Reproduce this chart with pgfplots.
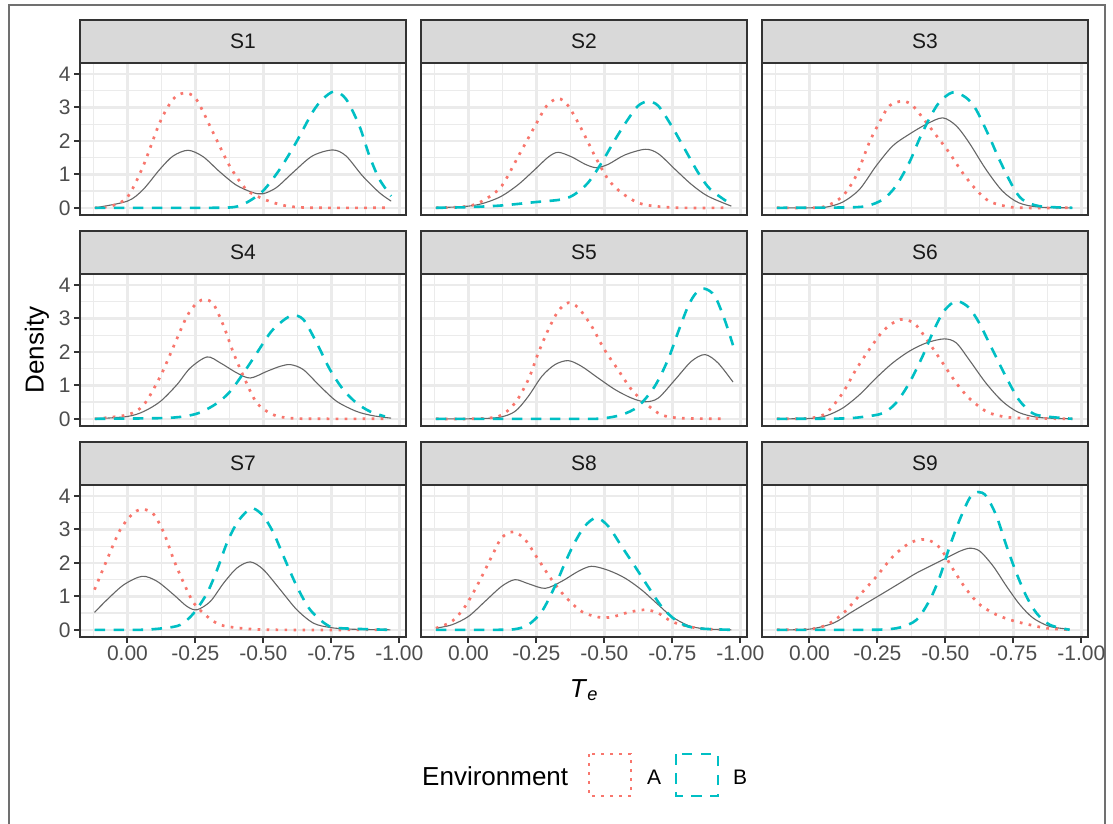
\documentclass[border=0pt]{standalone}
\usepackage{fontspec}
\setmainfont{Liberation Sans}
\usepackage{pgfplots}
\pgfplotsset{compat=1.18}
\definecolor{cA}{HTML}{F8766D}
\definecolor{cB}{HTML}{00BFC4}
\definecolor{cM}{HTML}{666666}
\definecolor{gridc}{HTML}{EBEBEB}
\definecolor{bordc}{HTML}{333333}
\definecolor{stripc}{HTML}{D9D9D9}
\definecolor{tickc}{HTML}{4D4D4D}
\definecolor{framec}{HTML}{707070}
\newcommand{\tsz}{\fontsize{21}{24}\selectfont}
\newcommand{\bsz}{\fontsize{26}{30}\selectfont}
\pgfplotsset{
  facet/.style={
    scale only axis, width=326pt, height=151.5pt, anchor=north west,
    xmin=-0.1745, xmax=1.0245, ymin=-0.2, ymax=4.33,
    xtick={0,0.25,0.5,0.75,1}, minor xtick={-0.125,0.125,0.375,0.625,0.875},
    ytick={0,1,2,3,4}, minor ytick={0.5,1.5,2.5,3.5},
    xticklabels={}, yticklabels={},
    grid=both,
    major grid style={draw=gridc, line width=2.6pt},
    minor grid style={draw=gridc, line width=1.3pt},
    axis line style={draw=bordc, line width=2pt},
    tick align=outside, major tick length=6pt, minor tick length=0pt,
    xmajorticks=false, ymajorticks=false,
    every tick/.style={draw=bordc, line width=2pt},
    tick label style={font=\tsz, text=tickc},
    clip=true,
  },
  lc/.style={ymajorticks=true, yticklabels={0,1,2,3,4}, ytick pos=left},
  br/.style={xmajorticks=true, xticklabels={0.00,-0.25,-0.50,-0.75,-1.00}, xtick pos=bottom},
  mix/.style={cM, line width=1.1pt, smooth, no marks, solid},
  envA/.style={cA, line width=2.7pt, dash pattern=on 2.7pt off 6.3pt, smooth, no marks},
  envB/.style={cB, line width=2.6pt, dash pattern=on 10.5pt off 8.5pt, smooth, no marks},
}
\newcommand{\strip}[3]{%
  \draw[fill=stripc, draw=bordc, line width=2pt] (#1pt,-#2pt) rectangle ++(326pt,-43pt);
  \node[font=\tsz, text=black!90, anchor=center] at ([xshift=163pt,yshift=-21.5pt]#1pt,-#2pt) {#3};}
\begin{document}
\begin{tikzpicture}
\useasboundingbox (0pt,0pt) rectangle (1113pt,-824pt);
\draw[framec, line width=2pt] (9pt,-830pt) -- (9pt,-5pt) -- (1105pt,-5pt) -- (1105pt,-830pt);

% S1
\begin{axis}[facet, lc, at={(80pt,-63pt)}]
\addplot[mix] coordinates {(-0.12,0) (0,0.2) (0.058,0.55) (0.119,1.15) (0.168,1.55) (0.223,1.72) (0.278,1.53) (0.339,1.08) (0.4,0.68) (0.46,0.46) (0.498,0.42) (0.547,0.6) (0.608,1.05) (0.68,1.55) (0.755,1.73) (0.804,1.55) (0.865,0.95) (0.927,0.45) (0.97,0.2)};
\addplot[envA] coordinates {(-0.12,0) (-0.06,0.05) (0,0.32) (0.058,1.25) (0.119,2.55) (0.168,3.25) (0.21,3.43) (0.253,3.25) (0.315,2.25) (0.376,1.25) (0.437,0.55) (0.498,0.27) (0.56,0.1) (0.61,0.03) (0.7,0) (0.95,0)};
\addplot[envB] coordinates {(-0.12,0) (0.3,0) (0.39,0.02) (0.437,0.15) (0.498,0.5) (0.56,1.15) (0.62,1.95) (0.68,2.85) (0.718,3.25) (0.761,3.48) (0.804,3.25) (0.853,2.45) (0.89,1.55) (0.927,0.85) (0.97,0.35)};
\end{axis}
% S2
\begin{axis}[facet, at={(421pt,-63pt)}]
\addplot[mix] coordinates {(-0.12,0) (0,0.05) (0.061,0.15) (0.122,0.35) (0.184,0.7) (0.245,1.15) (0.294,1.52) (0.33,1.66) (0.38,1.52) (0.43,1.3) (0.47,1.2) (0.514,1.3) (0.575,1.58) (0.65,1.75) (0.698,1.62) (0.76,1.15) (0.82,0.7) (0.88,0.35) (0.967,0.05)};
\addplot[envA] coordinates {(-0.12,0) (0,0.05) (0.061,0.25) (0.122,0.65) (0.184,1.55) (0.245,2.45) (0.288,3.05) (0.33,3.27) (0.367,3.05) (0.416,2.35) (0.465,1.55) (0.514,0.85) (0.563,0.45) (0.624,0.15) (0.685,0.05) (0.78,0) (0.955,0)};
\addplot[envB] coordinates {(-0.12,0) (0,0.02) (0.122,0.07) (0.245,0.17) (0.343,0.25) (0.39,0.4) (0.44,0.75) (0.49,1.35) (0.54,2.05) (0.587,2.65) (0.624,3.05) (0.66,3.18) (0.698,3.05) (0.747,2.45) (0.796,1.75) (0.845,1.05) (0.89,0.55) (0.967,0.1)};
\end{axis}
% S3
\begin{axis}[facet, at={(762pt,-63pt)}]
\addplot[mix] coordinates {(-0.12,0) (0,0) (0.061,0.02) (0.122,0.17) (0.184,0.55) (0.245,1.25) (0.306,1.85) (0.367,2.2) (0.43,2.5) (0.49,2.69) (0.54,2.45) (0.587,1.95) (0.649,1.15) (0.71,0.5) (0.77,0.15) (0.845,0.02) (0.967,0)};
\addplot[envA] coordinates {(-0.12,0) (0,0) (0.061,0.05) (0.122,0.35) (0.171,0.95) (0.22,1.95) (0.257,2.55) (0.294,3.05) (0.343,3.19) (0.38,3.05) (0.43,2.55) (0.477,2.05) (0.514,1.65) (0.563,1.05) (0.612,0.55) (0.66,0.2) (0.72,0.05) (0.78,0) (0.967,0)};
\addplot[envB] coordinates {(-0.12,0) (0.122,0.01) (0.208,0.05) (0.27,0.25) (0.318,0.65) (0.367,1.35) (0.404,2.05) (0.44,2.65) (0.477,3.15) (0.526,3.45) (0.575,3.3) (0.612,2.95) (0.66,2.15) (0.698,1.45) (0.747,0.65) (0.783,0.25) (0.845,0.05) (0.967,0)};
\end{axis}
% S4
\begin{axis}[facet, lc, at={(80pt,-274pt)}]
\addplot[mix] coordinates {(-0.12,0) (0,0.07) (0.06,0.22) (0.121,0.52) (0.182,1.02) (0.231,1.52) (0.293,1.85) (0.342,1.67) (0.403,1.37) (0.452,1.22) (0.513,1.42) (0.562,1.57) (0.6,1.62) (0.647,1.47) (0.709,0.97) (0.77,0.52) (0.843,0.22) (0.905,0.09) (0.97,0.02)};
\addplot[envA] coordinates {(-0.12,0) (0,0.12) (0.06,0.42) (0.121,1.27) (0.17,2.17) (0.219,3.07) (0.256,3.47) (0.286,3.57) (0.317,3.42) (0.354,2.77) (0.39,1.97) (0.427,1.27) (0.476,0.47) (0.537,0.12) (0.6,0.02) (0.7,0) (0.947,0)};
\addplot[envB] coordinates {(-0.12,0) (0.121,0.02) (0.207,0.07) (0.268,0.19) (0.33,0.47) (0.378,0.82) (0.427,1.37) (0.476,1.97) (0.525,2.57) (0.562,2.87) (0.605,3.09) (0.647,2.97) (0.696,2.27) (0.745,1.47) (0.794,0.87) (0.843,0.47) (0.892,0.22) (0.947,0.07)};
\end{axis}
% S5
\begin{axis}[facet, at={(421pt,-274pt)}]
\addplot[mix] coordinates {(-0.12,0) (0,0) (0.11,0.04) (0.171,0.22) (0.22,0.67) (0.27,1.27) (0.318,1.62) (0.367,1.74) (0.416,1.57) (0.477,1.22) (0.54,0.87) (0.6,0.62) (0.65,0.51) (0.698,0.62) (0.76,1.17) (0.82,1.72) (0.87,1.92) (0.918,1.67) (0.973,1.1)};
\addplot[envA] coordinates {(-0.12,0) (0,0) (0.11,0.07) (0.171,0.47) (0.22,1.17) (0.257,1.97) (0.294,2.67) (0.33,3.22) (0.367,3.47) (0.404,3.32) (0.453,2.77) (0.5,2.07) (0.55,1.47) (0.6,0.87) (0.65,0.47) (0.71,0.12) (0.783,0.02) (0.947,0)};
\addplot[envB] coordinates {(-0.12,0) (0.4,0) (0.49,0.01) (0.563,0.12) (0.624,0.37) (0.685,0.97) (0.734,1.77) (0.77,2.57) (0.808,3.37) (0.838,3.77) (0.869,3.89) (0.906,3.67) (0.942,2.97) (0.973,2.2)};
\end{axis}
% S6
\begin{axis}[facet, at={(762pt,-274pt)}]
\addplot[mix] coordinates {(-0.12,0) (0,0.01) (0.061,0.09) (0.122,0.32) (0.184,0.72) (0.245,1.22) (0.306,1.67) (0.367,2.02) (0.43,2.27) (0.496,2.39) (0.54,2.27) (0.587,1.77) (0.649,1.07) (0.71,0.52) (0.77,0.19) (0.845,0.04) (0.967,0)};
\addplot[envA] coordinates {(-0.12,0) (0,0.02) (0.061,0.17) (0.122,0.77) (0.171,1.47) (0.22,2.07) (0.27,2.62) (0.318,2.92) (0.35,2.97) (0.39,2.82) (0.44,2.27) (0.49,1.67) (0.54,1.07) (0.587,0.62) (0.65,0.22) (0.71,0.07) (0.78,0.02) (0.967,0)};
\addplot[envB] coordinates {(-0.12,0) (0.122,0.01) (0.208,0.07) (0.27,0.17) (0.318,0.47) (0.367,1.07) (0.416,1.87) (0.453,2.57) (0.49,3.17) (0.526,3.47) (0.55,3.51) (0.587,3.32) (0.624,2.87) (0.673,2.07) (0.722,1.27) (0.77,0.57) (0.82,0.17) (0.87,0.07) (0.967,0)};
\end{axis}
% S7
\begin{axis}[facet, lc, br, at={(80pt,-485pt)}]
\addplot[mix] coordinates {(-0.121,0.52) (-0.075,0.9) (-0.013,1.35) (0.054,1.6) (0.109,1.45) (0.17,1.05) (0.219,0.7) (0.256,0.6) (0.305,0.85) (0.354,1.4) (0.403,1.85) (0.452,2.03) (0.5,1.8) (0.562,1.2) (0.623,0.6) (0.684,0.2) (0.745,0.07) (0.82,0.02) (0.967,0)};
\addplot[envA] coordinates {(-0.121,1.2) (-0.075,2.1) (-0.026,3.0) (0.023,3.5) (0.06,3.6) (0.097,3.45) (0.134,2.9) (0.17,2.1) (0.207,1.4) (0.244,0.8) (0.293,0.4) (0.341,0.15) (0.415,0.05) (0.537,0) (0.967,0)};
\addplot[envB] coordinates {(-0.121,0) (0.048,0) (0.134,0.05) (0.195,0.15) (0.244,0.5) (0.293,1.1) (0.33,1.8) (0.366,2.6) (0.403,3.2) (0.44,3.55) (0.464,3.63) (0.5,3.4) (0.537,2.9) (0.574,2.2) (0.623,1.3) (0.672,0.6) (0.733,0.15) (0.782,0.05) (0.967,0)};
\end{axis}
% S8
\begin{axis}[facet, br, at={(421pt,-485pt)}]
\addplot[mix] coordinates {(-0.12,0.05) (-0.061,0.15) (0,0.4) (0.061,0.85) (0.122,1.3) (0.171,1.5) (0.22,1.38) (0.282,1.24) (0.343,1.45) (0.404,1.75) (0.453,1.9) (0.514,1.78) (0.575,1.55) (0.636,1.2) (0.698,0.75) (0.747,0.4) (0.808,0.13) (0.869,0.03) (0.967,0)};
\addplot[envA] coordinates {(-0.12,0.05) (-0.061,0.25) (-0.012,0.7) (0.037,1.4) (0.086,2.2) (0.122,2.75) (0.165,2.93) (0.208,2.7) (0.257,2.1) (0.306,1.5) (0.355,1.0) (0.416,0.55) (0.477,0.38) (0.526,0.38) (0.587,0.52) (0.649,0.6) (0.698,0.5) (0.747,0.25) (0.808,0.1) (0.869,0.03) (0.955,0)};
\addplot[envB] coordinates {(-0.12,0) (0.1,0) (0.171,0.02) (0.22,0.15) (0.27,0.55) (0.318,1.3) (0.355,2.0) (0.39,2.6) (0.428,3.1) (0.47,3.35) (0.514,3.1) (0.563,2.5) (0.612,1.9) (0.66,1.3) (0.71,0.7) (0.76,0.3) (0.808,0.1) (0.869,0.03) (0.967,0)};
\end{axis}
% S9
\begin{axis}[facet, br, at={(762pt,-485pt)}]
\addplot[mix] coordinates {(-0.12,0) (0,0.02) (0.088,0.2) (0.149,0.5) (0.21,0.8) (0.272,1.1) (0.333,1.4) (0.394,1.7) (0.455,1.95) (0.516,2.2) (0.553,2.35) (0.59,2.44) (0.627,2.35) (0.676,1.9) (0.725,1.3) (0.774,0.75) (0.823,0.35) (0.884,0.1) (0.957,0.02)};
\addplot[envA] coordinates {(-0.12,0) (0,0.02) (0.064,0.15) (0.125,0.5) (0.186,1.05) (0.247,1.6) (0.308,2.2) (0.37,2.6) (0.43,2.7) (0.48,2.45) (0.529,1.8) (0.578,1.2) (0.627,0.75) (0.688,0.45) (0.75,0.27) (0.81,0.15) (0.871,0.05) (0.957,0)};
\addplot[envB] coordinates {(-0.12,0) (0.2,0) (0.272,0.01) (0.333,0.07) (0.394,0.3) (0.443,0.9) (0.48,1.6) (0.516,2.5) (0.553,3.3) (0.59,3.95) (0.62,4.12) (0.65,4.0) (0.688,3.4) (0.725,2.5) (0.761,1.7) (0.798,1.0) (0.835,0.5) (0.884,0.15) (0.957,0)};
\end{axis}

\strip{80}{20}{S1}\strip{421}{20}{S2}\strip{762}{20}{S3}
\strip{80}{231}{S4}\strip{421}{231}{S5}\strip{762}{231}{S6}
\strip{80}{442}{S7}\strip{421}{442}{S8}\strip{762}{442}{S9}

\node[rotate=90, font=\bsz, anchor=center] at (37pt,-350pt) {Density};
\node[font=\bsz, anchor=base] at (584pt,-697pt) {\textit{T}\textsubscript{\textit{e}}};

\node[font=\bsz, anchor=base west, inner sep=0pt] at (422pt,-785pt) {Environment};
\draw[cA, line width=2.7pt, dash pattern=on 2.7pt off 6.3pt] (589pt,-754pt) rectangle (631pt,-796pt);
\node[font=\tsz, anchor=base west, inner sep=0pt] at (647pt,-784pt) {A};
\draw[cB, line width=2.6pt, dash pattern=on 10.5pt off 8.5pt] (676pt,-754pt) rectangle (718pt,-796pt);
\node[font=\tsz, anchor=base west, inner sep=0pt] at (733pt,-784pt) {B};
\end{tikzpicture}
\end{document}
